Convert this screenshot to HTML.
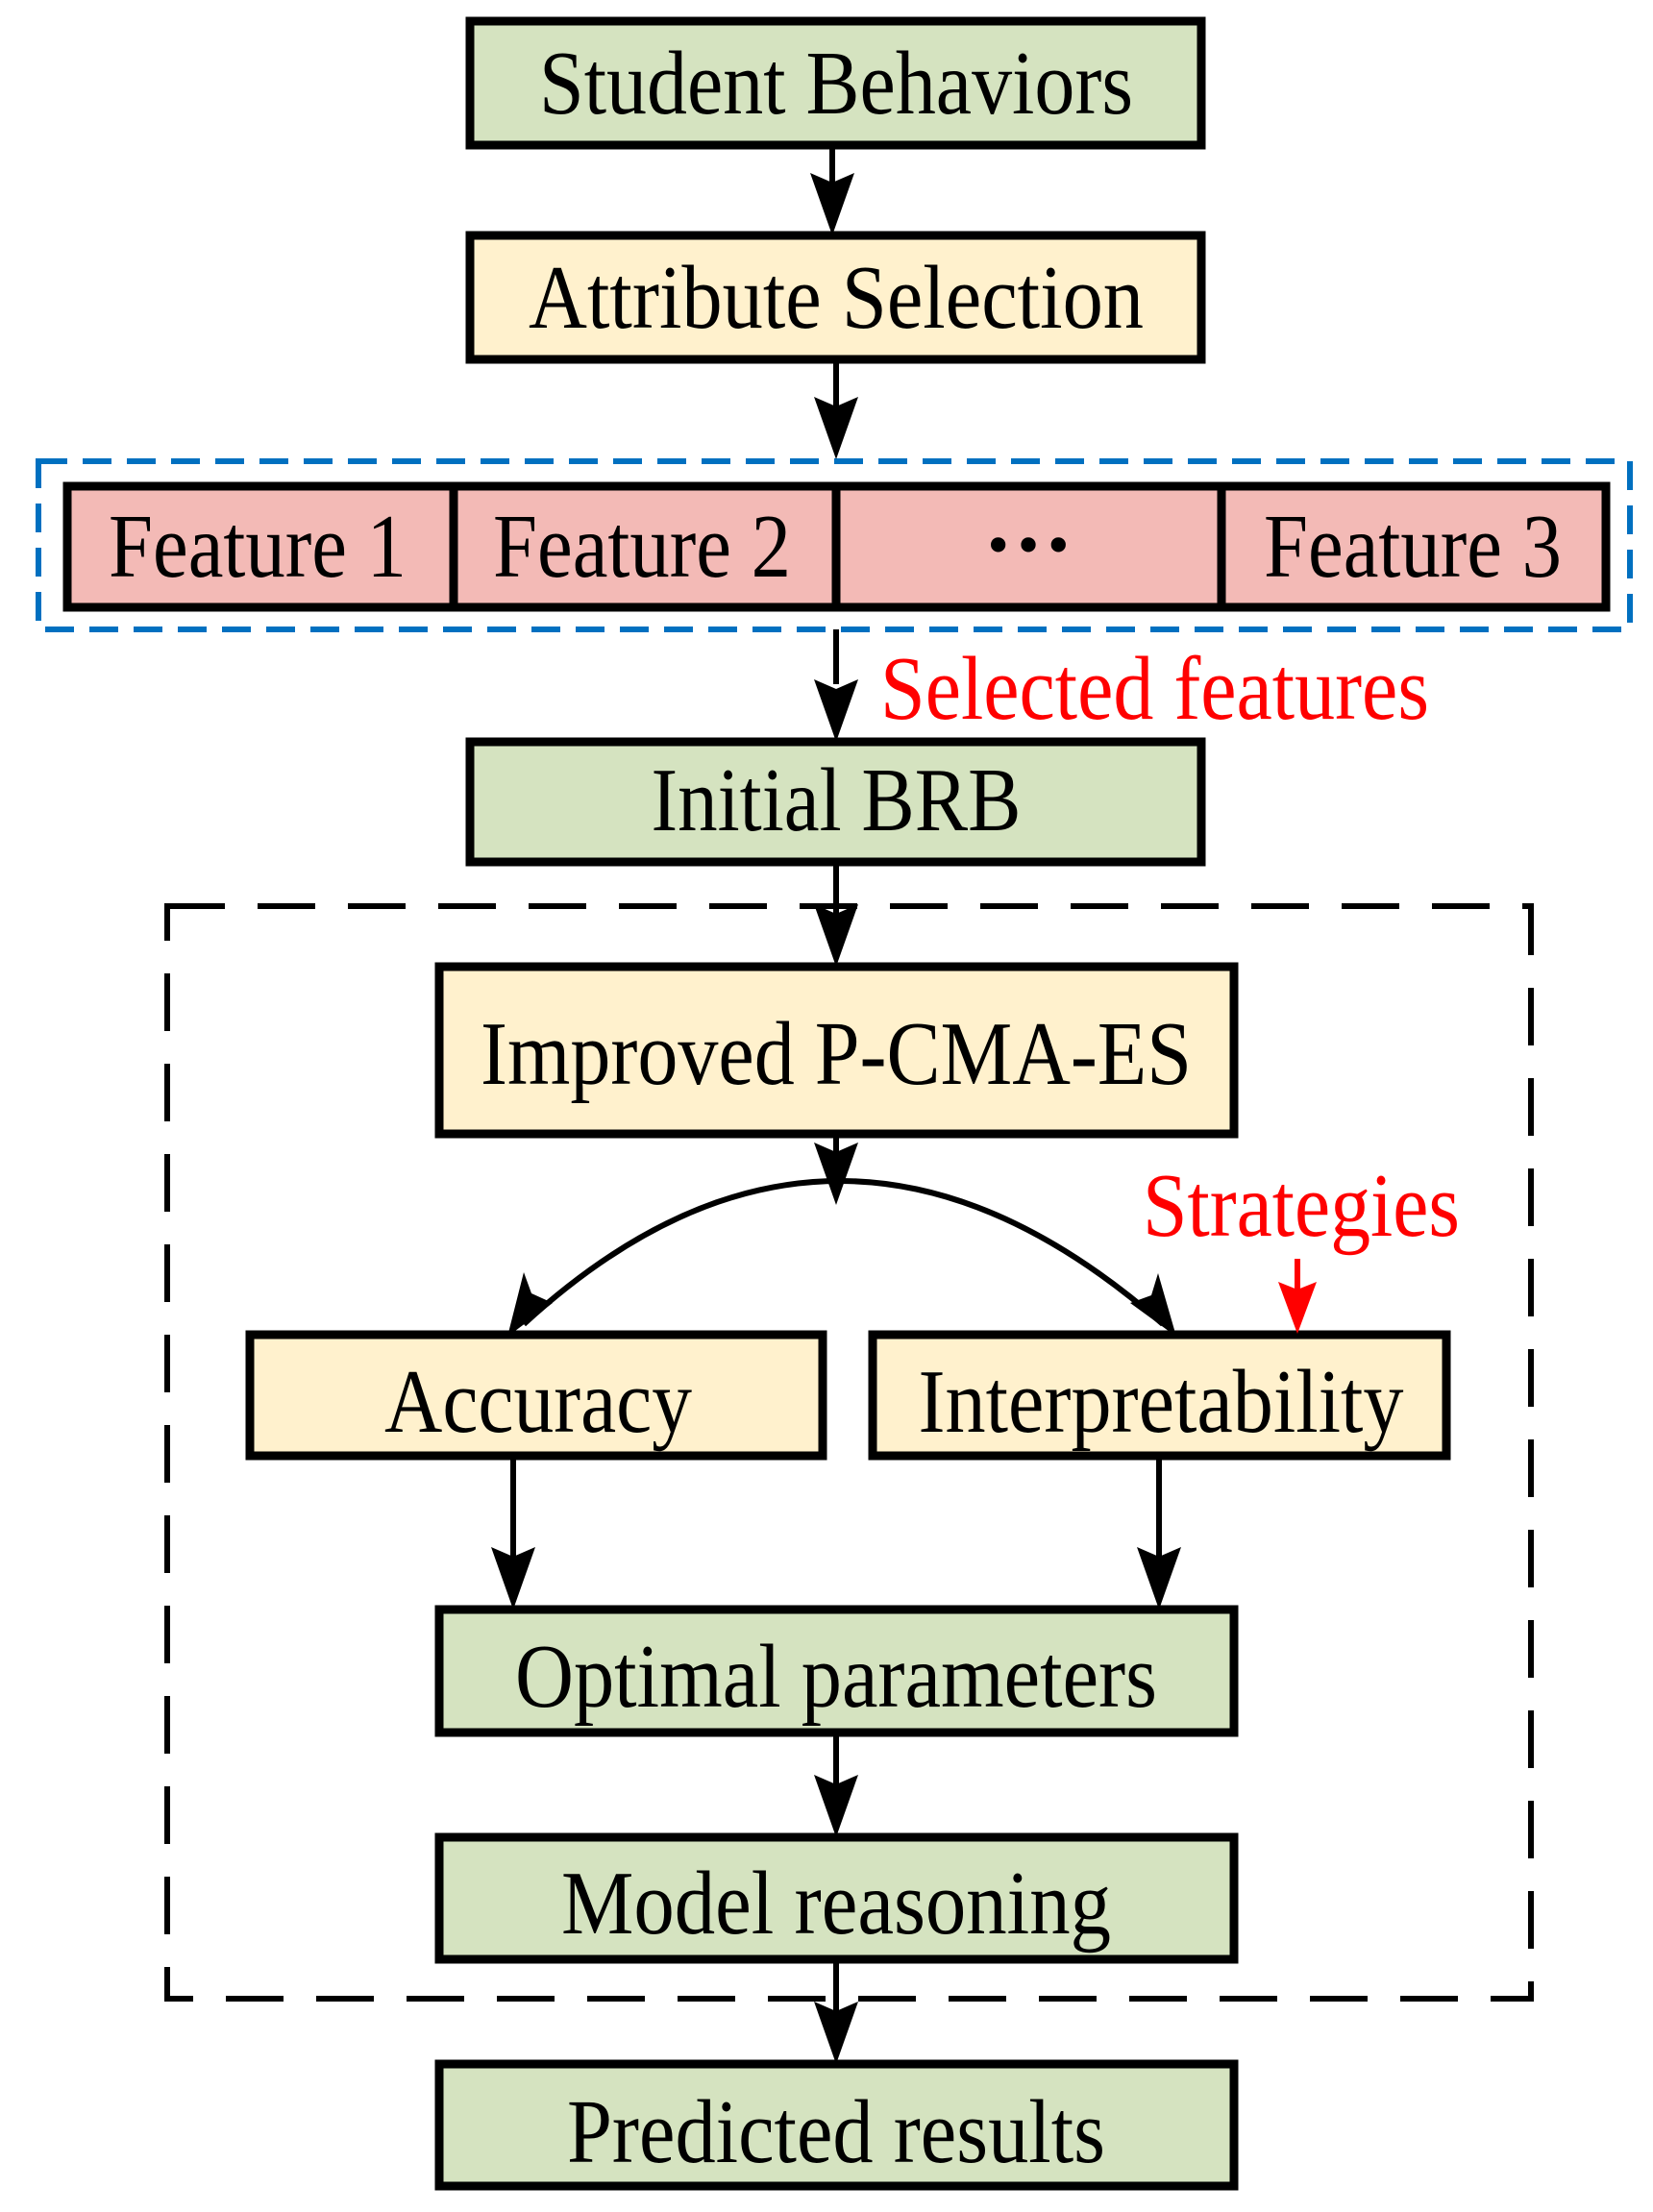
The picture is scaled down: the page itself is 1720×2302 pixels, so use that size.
<!DOCTYPE html>
<html><head><meta charset="utf-8"><style>html,body{margin:0;padding:0;background:#fff}svg{display:block}</style></head>
<body>
<svg width="1720" height="2302" viewBox="0 0 1720 2302" xmlns="http://www.w3.org/2000/svg" font-family="'Liberation Serif', serif">
<g stroke="#000" stroke-width="9">
<rect x="489" y="22" width="761" height="129" fill="#d5e3c0"/>
<rect x="489" y="245" width="761" height="129" fill="#fff1cd"/>
<rect x="70" y="506" width="1601" height="126" fill="#f3bab6"/>
<line x1="472" y1="506" x2="472" y2="632"/>
<line x1="870" y1="506" x2="870" y2="632"/>
<line x1="1271" y1="506" x2="1271" y2="632"/>
<rect x="489" y="772" width="761" height="125" fill="#d5e3c0"/>
<rect x="457" y="1006" width="827" height="174" fill="#fff1cd"/>
<rect x="260" y="1389" width="596" height="126" fill="#fff1cd"/>
<rect x="908" y="1389" width="597" height="126" fill="#fff1cd"/>
<rect x="457" y="1675" width="827" height="128" fill="#d5e3c0"/>
<rect x="457" y="1912" width="827" height="127" fill="#d5e3c0"/>
<rect x="457" y="2148" width="827" height="127" fill="#d5e3c0"/>
</g>
<rect x="40" y="480" width="1656" height="175" fill="none" stroke="#0070c0" stroke-width="6" stroke-dasharray="30,16"/>
<rect x="174" y="943" width="1419" height="1137" fill="none" stroke="#000" stroke-width="6" stroke-dasharray="60,34"/>
<g stroke="#000" stroke-width="6" fill="none">
<line x1="866" y1="151" x2="866" y2="205"/>
<line x1="870" y1="374" x2="870" y2="430"/>
<line x1="870" y1="655" x2="870" y2="712"/>
<line x1="870" y1="897" x2="870" y2="955"/>
<line x1="870" y1="1180" x2="870" y2="1220"/>
<path d="M545 1378 Q870 1080 1210 1378" />
<line x1="534" y1="1515" x2="534" y2="1620"/>
<line x1="1206" y1="1515" x2="1206" y2="1620"/>
<line x1="870" y1="1803" x2="870" y2="1860"/>
<line x1="870" y1="2039" x2="870" y2="2100"/>
</g>
<g fill="#000">
<path d="M866 245 L843 180 L866 190 L889 180 Z"/>
<path d="M870 478 L847 413 L870 423 L893 413 Z"/>
<path d="M870 772 L847 707 L870 717 L893 707 Z"/>
<path d="M870 1006 L847 941 L870 951 L893 941 Z"/>
<path d="M870 1254 L847 1189 L870 1199 L893 1189 Z"/>
<path d="M534 1675 L511 1610 L534 1620 L557 1610 Z"/>
<path d="M1206 1675 L1183 1610 L1206 1620 L1229 1610 Z"/>
<path d="M870 1912 L847 1847 L870 1857 L893 1847 Z"/>
<path d="M870 2148 L847 2083 L870 2093 L893 2083 Z"/>
<path d="M528 1391 L545 1324 L553 1346 L575 1356 Z"/>
<path d="M1224 1391 L1176 1356 L1198 1348 L1205 1325 Z"/>
</g>
<line x1="1350" y1="1310" x2="1350" y2="1350" stroke="#f00" stroke-width="6"/>
<path d="M1350 1388 L1330 1334 L1350 1342 L1370 1334 Z" fill="#f00"/>
<g font-size="94" text-anchor="middle" fill="#000">
<text x="870" y="118" textLength="618" lengthAdjust="spacingAndGlyphs">Student Behaviors</text>
<text x="870" y="341" textLength="640" lengthAdjust="spacingAndGlyphs">Attribute Selection</text>
<text x="268" y="600" textLength="310" lengthAdjust="spacingAndGlyphs">Feature 1</text>
<text x="668" y="600" textLength="310" lengthAdjust="spacingAndGlyphs">Feature 2</text>
<text x="1070" y="598" font-weight="bold">···</text>
<text x="1470" y="600" textLength="310" lengthAdjust="spacingAndGlyphs">Feature 3</text>
<text x="870" y="864" textLength="385" lengthAdjust="spacingAndGlyphs">Initial BRB</text>
<text x="870" y="1128" textLength="740" lengthAdjust="spacingAndGlyphs">Improved P-CMA-ES</text>
<text x="560" y="1490" textLength="320" lengthAdjust="spacingAndGlyphs">Accuracy</text>
<text x="1208" y="1490" textLength="505" lengthAdjust="spacingAndGlyphs">Interpretability</text>
<text x="870" y="1776" textLength="668" lengthAdjust="spacingAndGlyphs">Optimal parameters</text>
<text x="870" y="2012" textLength="572" lengthAdjust="spacingAndGlyphs">Model reasoning</text>
<text x="870" y="2250" textLength="560" lengthAdjust="spacingAndGlyphs">Predicted results</text>
</g>
<g font-size="94" fill="#f00">
<text x="916" y="748" textLength="571" lengthAdjust="spacingAndGlyphs">Selected features</text>
<text x="1189" y="1286" textLength="330" lengthAdjust="spacingAndGlyphs">Strategies</text>
</g>
</svg>
</body></html>
